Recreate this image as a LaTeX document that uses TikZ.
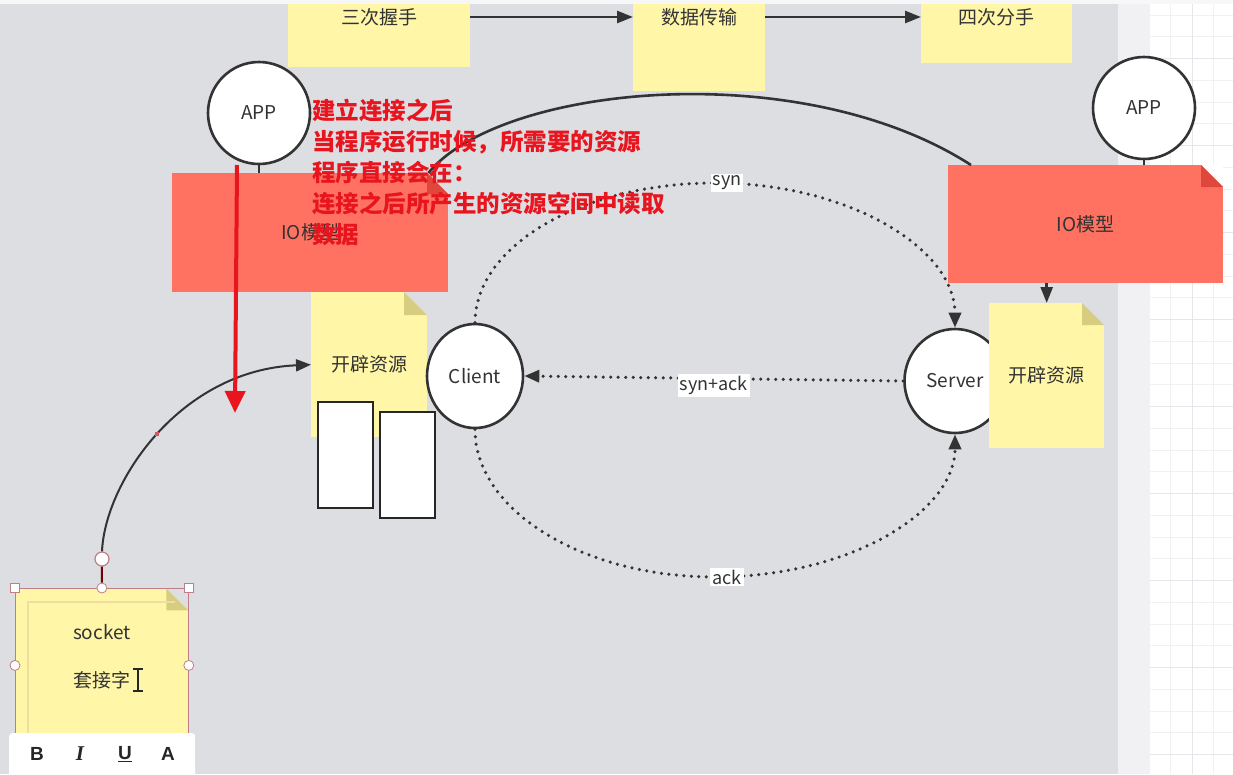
\documentclass[tikz,border=0pt]{standalone}
\usepackage{fontspec}
\setmainfont{Noto Sans CJK SC}
\newfontfamily\arialfont{Liberation Sans}
\newfontfamily\timesfont{Liberation Serif}
\usetikzlibrary{positioning,arrows.meta,shapes.geometric}

\definecolor{canvas}{RGB}{221,222,226}
\definecolor{strip}{RGB}{241,241,243}
\definecolor{gridmin}{RGB}{241,241,244}
\definecolor{gridmaj}{RGB}{230,230,234}
\definecolor{notey}{RGB}{255,246,168}
\definecolor{foldy}{RGB}{214,205,128}
\definecolor{iored}{RGB}{255,114,98}
\definecolor{foldr}{RGB}{222,72,60}
\definecolor{markred}{RGB}{232,20,30}
\definecolor{ink}{RGB}{51,51,51}
\definecolor{handle}{RGB}{190,125,135}
\definecolor{frame}{RGB}{240,222,160}

\begin{document}
\begin{tikzpicture}[
		x=1pt, y=-1pt,
		txt/.style={font=\fontsize{19}{22}\selectfont, text=ink, inner sep=0pt},
		lbl/.style={fill=white, font=\fontsize{18}{20}\selectfont, text=ink, inner sep=2pt},
		note/.style={rectangle, fill=#1, inner sep=0pt, font=\fontsize{19}{22}\selectfont, text=ink},
		fold/.style n args={3}{path picture={
				\fill[#2] ([xshift=-#1]path picture bounding box.north east) -- (path picture bounding box.north east) -- ([yshift=-#1]path picture bounding box.north east) -- cycle;
				\fill[#3] ([xshift=-#1]path picture bounding box.north east) -- ([xshift=-#1,yshift=-#1]path picture bounding box.north east) -- ([yshift=-#1]path picture bounding box.north east) -- cycle;}},
		bubble/.style={ellipse, draw=ink, line width=2.6pt, fill=white, inner sep=0pt, font=\fontsize{19}{22}\selectfont, text=ink},
		slot/.style={rectangle, draw=black!85, line width=2.2pt, fill=white, inner sep=0pt},
		wire/.style={draw=ink, line width=2.6pt},
		arr/.style={wire, -{Triangle[length=16pt, width=12pt]}},
		dotline/.style={draw=ink, line width=3.5pt, line cap=round, dash pattern=on 0pt off 7.5pt},
		dotarr/.style={dotline, -{Triangle[length=15pt, width=12pt]}},
		hsq/.style={rectangle, draw=handle, line width=0.8pt, fill=white, minimum size=9pt, inner sep=0pt},
		hdot/.style={circle, draw=handle, line width=0.8pt, fill=white, minimum size=10pt, inner sep=0pt},
		tbtxt/.style={font=\arialfont\bfseries\fontsize{19}{22}\selectfont, text=black!85, inner sep=0pt},
		memo/.style={font=\bfseries\fontsize{23.5}{31}\selectfont, text=markred, align=left, inner sep=0pt},
		redarr/.style={draw=markred, line width=4pt, -{Triangle[length=22pt, width=20pt]}}
		]
		\useasboundingbox (0,0) rectangle (1233,774);
		
		%==================== Canvas ====================%
		\fill[canvas] (0,0) rectangle (1118,774);
		\fill[strip] (1118,0) rectangle (1150,774);
		\fill[white] (1150,0) rectangle (1233,774);
		\foreach \gy in {15,36.75,...,774} \draw[gridmin, line width=0.7pt] (1150,\gy) -- (1233,\gy);
		\foreach \gx in {1170.25,1192,1213.75} \draw[gridmin, line width=0.7pt] (\gx,0) -- (\gx,774);
		\foreach \gy in {58.5,145.5,...,774} \draw[gridmaj, line width=1pt] (1150,\gy) -- (1233,\gy);
		\draw[gridmaj, line width=1pt] (1192,0) -- (1192,774);
		\fill[black!3] (0,0) rectangle (1233,4);
		
		%==================== Phases ====================%
		\node[note=notey, minimum width=182pt, minimum height=63pt, anchor=north west] (shake) at (288,4) {};
		\node[txt] (shaket) at ([yshift=-13pt]shake.north) {三次握手};
		\node[note=notey, minimum width=132pt, minimum height=87pt, anchor=north west] (trans) at (633,4) {};
		\node[txt] (transt) at ([yshift=-13pt]trans.north) {数据传输};
		\node[note=notey, minimum width=151pt, minimum height=59pt, anchor=north west] (wave) at (921,4) {};
		\node[txt] (wavet) at ([yshift=-13pt]wave.north) {四次分手};
		
		\draw[arr] (shake.east |- shaket) -- (trans.west |- shaket);
		\draw[arr] (trans.east |- transt) -- (wave.west |- transt);
		
		%==================== Apps and IO ====================%
		\node[bubble, minimum size=102pt] (appL) at (259,113) {APP};
		\node[bubble, minimum size=102pt] (appR) at (1144,108) {APP};
		
		\node[note=iored, fold={21pt}{canvas}{foldr}, minimum width=276pt, minimum height=119pt, anchor=north west] (ioL) at (172,173) {IO模型};
		\node[note=iored, fold={22pt}{white}{foldr}, minimum width=275pt, minimum height=118pt, anchor=north west] (ioR) at (948,165) {IO模型};
		
		\draw[wire] ([xshift=-20pt]ioL.north east) .. controls (500,85) and (800,55) .. ([xshift=23pt]ioR.north west);
		\draw[wire] (appL.south) -- (appL.south |- ioL.north);
		\draw[wire] (appR.south) -- (appR.south |- ioR.north);
		
		%==================== Handshake ====================%
		\node[note=notey, fold={23pt}{canvas}{foldy}, minimum width=116pt, minimum height=145pt, anchor=north west] (resL) at (311,292) {开辟资源};
		\node[slot, minimum width=55pt, minimum height=106pt, anchor=north west] (bufA) at (317,401) {};
		\node[slot, minimum width=55pt, minimum height=106pt, anchor=north west] (bufB) at (379,411) {};
		
		\node[bubble, minimum width=96pt, minimum height=104pt] (client) at (475,376) {Client};
		\node[bubble, minimum width=101pt, minimum height=104pt] (server) at (955,381) {Server};
		
		\draw[dotarr] (client.north) .. controls (475,246) and (582,183) .. (715,183)
		node[lbl, xshift=12pt] (synl) {syn}
		.. controls (848,183) and (955,248) .. (server.north);
		\draw[dotarr] (server.west) -- (client.east) node[lbl, midway, yshift=-7pt] (synackl) {syn+ack};
		\draw[dotarr] (client.south) .. controls (475,510) and (582,577) .. (715,577)
		node[lbl, xshift=12pt] (ackl) {ack}
		.. controls (848,577) and (955,513) .. (server.south);
		
		\node[note=notey, fold={22pt}{canvas}{foldy}, minimum width=115pt, minimum height=145pt, anchor=north west] (resR) at (989,303) {开辟资源};
		\draw[arr] (resR.north |- ioR.south) -- (resR.north);
		
		%==================== Socket ====================%
		\node[note=notey, fold={22pt}{canvas}{foldy}, draw=handle, line width=0.8pt, minimum width=173pt, minimum height=154pt, anchor=north west] (sock) at (15,588) {};
		\draw[frame, line width=1.5pt] ([xshift=13pt]sock.south west) -- ([xshift=13pt,yshift=-14pt]sock.north west) -- ([xshift=-14pt,yshift=-14pt]sock.north east);
		\node[txt] (sockt) at ([yshift=-44pt]sock.north) {socket};
		\node[txt] (sockz) at ([yshift=-92pt]sock.north) {套接字};
		\draw[black!85, line width=1.6pt] (138,669) -- (138,691) (133,669) -- (143,669) (133,691) -- (143,691);
		
		\node[hsq] (hNW) at (sock.north west) {};
		\node[hsq] (hNE) at (sock.north east) {};
		\node[hdot] (hN) at (sock.north) {};
		\node[hdot] (hW) at (sock.west) {};
		\node[hdot] (hE) at (sock.east) {};
		\node[hdot, minimum size=14pt, line width=1.2pt] (sockh) at (102,559) {};
		\draw[draw=red!45!black, line width=2pt] (sockh.south) -- (hN.north);
		
		\draw[arr, line width=2pt, -{Triangle[length=15pt, width=12pt]}] (sockh.north) .. controls (105,482) and (180,370) .. (resL.west);
		\fill[handle!70!red] (155,432) rectangle (159,436);
		
		\node[rectangle, rounded corners=3pt, fill=white, minimum width=186pt, minimum height=50pt, anchor=north west] (tools) at (9,733) {};
		\node[tbtxt] (tB) at (37,754) {B};
		\node[tbtxt, font=\timesfont\bfseries\itshape\fontsize{21}{22}\selectfont] (tI) at (80,754) {I};
		\node[tbtxt] (tU) at (125,754) {\underline{U}};
		\node[tbtxt] (tA) at (168,754) {A};
		
		%==================== Annotation ====================%
		\coordinate (redtop) at (237,165);
		\coordinate (redend) at (235,413);
		\draw[redarr] (redtop) -- (redend);
		\node[memo, anchor=north west] (memo) at (312,99) {建立连接之后\\当程序运行时候，所需要的资源\\程序直接会在：\\连接之后所产生的资源空间中读取\\数据};
		
	\end{tikzpicture}
\end{document}
